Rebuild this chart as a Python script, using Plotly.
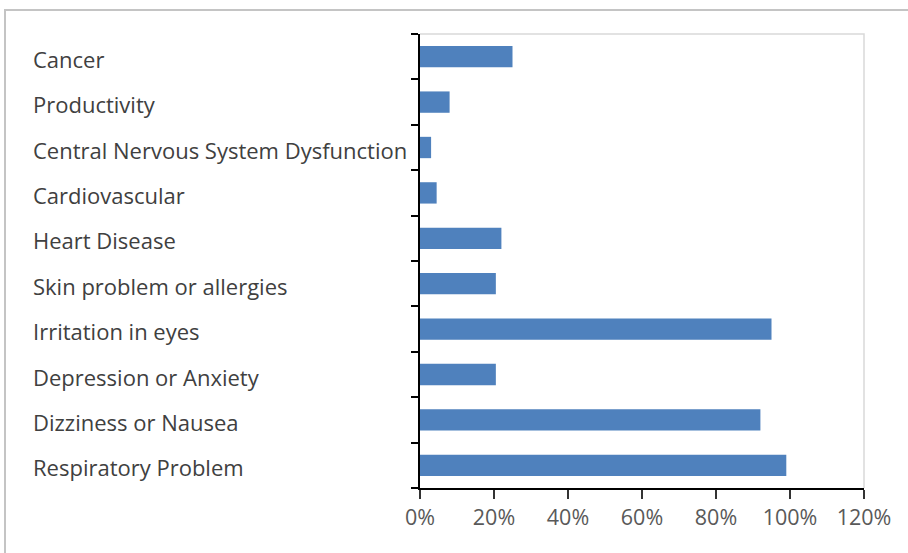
import plotly.graph_objects as go

# Health effects reported, share of respondents
categories = [
    "Cancer",
    "Productivity",
    "Central Nervous System Dysfunction",
    "Cardiovascular",
    "Heart Disease",
    "Skin problem or allergies",
    "Irritation in eyes",
    "Depression or Anxiety",
    "Dizziness or Nausea",
    "Respiratory Problem",
]
shares = [0.25, 0.08, 0.03, 0.045, 0.22, 0.205, 0.95, 0.205, 0.92, 0.99]
x_ticks = [0, 0.2, 0.4, 0.6, 0.8, 1.0, 1.2]
x_tick_labels = ["0%", "20%", "40%", "60%", "80%", "100%", "120%"]

W, H = 908, 553
ML, MR, MT, MB = 420, 44, 34, 65
PW, PH = W - ML - MR, H - MT - MB

FONT = "Open Sans"
TEXT = "#404040"

fig = go.Figure(
    go.Bar(
        x=shares,
        y=categories,
        orientation="h",
        marker=dict(color="#4f81bd", line=dict(width=0)),
        hoverinfo="skip",
    )
)

# left-aligned category names
annotations = [
    dict(
        x=(31 - ML) / PW,
        xref="paper",
        y=c,
        yref="y",
        yshift=-2,
        text=c,
        showarrow=False,
        xanchor="left",
        yanchor="middle",
        font=dict(family=FONT, size=22, color=TEXT),
    )
    for c in categories
]

shapes = [
    # outer chart frame
    dict(
        type="rect",
        xref="paper",
        yref="paper",
        x0=(5 - ML) / PW,
        x1=(W + 10 - ML) / PW,
        y0=-(H + 10 - MT - PH) / PH,
        y1=1 + (MT - 10) / PH,
        line=dict(color="#c4c4c4", width=2),
        layer="below",
    ),
    # light plot-area frame (top and right)
    dict(
        type="path",
        xref="paper",
        yref="paper",
        path="M 0 1 L 1 1 L 1 0",
        line=dict(color="#d9d9d9", width=1.5),
        layer="below",
    ),
]

fig.update_layout(
    width=W,
    height=H,
    margin=dict(l=ML, r=MR, t=MT, b=MB, pad=0),
    paper_bgcolor="white",
    plot_bgcolor="white",
    showlegend=False,
    bargap=0.53,
    annotations=annotations,
    shapes=shapes,
    xaxis=dict(
        range=[0, 1.2],
        tickvals=x_ticks,
        ticktext=x_tick_labels,
        showgrid=False,
        zeroline=False,
        showline=True,
        linecolor="black",
        linewidth=2,
        ticks="outside",
        ticklen=9,
        tickwidth=2,
        tickcolor="#333333",
        tickfont=dict(family=FONT, size=21.5, color="#595959"),
        fixedrange=True,
    ),
    yaxis=dict(
        categoryorder="array",
        categoryarray=categories[::-1],
        showticklabels=False,
        tickson="boundaries",
        ticks="outside",
        ticklen=7,
        tickwidth=2,
        tickcolor="black",
        showgrid=False,
        zeroline=False,
        showline=True,
        linecolor="black",
        linewidth=2,
        fixedrange=True,
    ),
)

fig.write_html("out.html", config={"displayModeBar": False})
